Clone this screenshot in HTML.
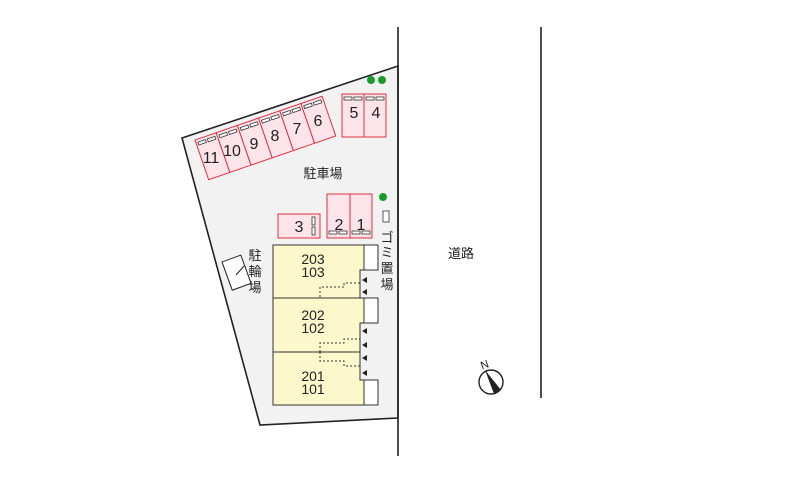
<!DOCTYPE html>
<html><head><meta charset="utf-8"><style>html,body{margin:0;padding:0;background:#fff}svg{display:block}</style></head><body>
<svg width="800" height="486" viewBox="0 0 800 486" xmlns="http://www.w3.org/2000/svg" font-family="'Liberation Sans','Noto Sans CJK JP',sans-serif">
<polygon points="182,138 398,66 398,418 260,425" fill="#f2f2f2" stroke="#222" stroke-width="1.6"/>
<line x1="398" y1="27" x2="398" y2="456" stroke="#222" stroke-width="1.6"/>
<line x1="541" y1="27" x2="541" y2="398" stroke="#222" stroke-width="1.6"/>
<g transform="translate(195,140) rotate(-19)" stroke="#e03040" stroke-width="1" fill="#fce4ea">
<rect x="0" y="0" width="22.4" height="42"/><rect x="22.4" y="0" width="22.4" height="42"/><rect x="44.8" y="0" width="22.4" height="42"/><rect x="67.2" y="0" width="22.4" height="42"/><rect x="89.6" y="0" width="22.4" height="42"/><rect x="112" y="0" width="22.4" height="42"/>
<g fill="#fff" stroke="#333" stroke-width="0.8">
<rect x="2" y="3" width="8" height="3"/><rect x="12" y="3" width="8" height="3"/><rect x="24.4" y="3" width="8" height="3"/><rect x="34.4" y="3" width="8" height="3"/><rect x="46.8" y="3" width="8" height="3"/><rect x="56.8" y="3" width="8" height="3"/><rect x="69.2" y="3" width="8" height="3"/><rect x="79.2" y="3" width="8" height="3"/><rect x="91.6" y="3" width="8" height="3"/><rect x="101.6" y="3" width="8" height="3"/><rect x="114" y="3" width="8" height="3"/><rect x="124" y="3" width="8" height="3"/>
</g></g>
<g font-size="16" fill="#222" text-anchor="middle">
<text x="211" y="163">11</text><text x="232" y="156">10</text><text x="254" y="149">9</text><text x="275" y="141">8</text><text x="297" y="134">7</text><text x="318" y="126">6</text>
</g>
<g stroke="#e03040" fill="#fce4ea">
<rect x="342" y="94" width="22" height="43"/><rect x="364" y="94" width="22" height="43"/>
<rect x="327" y="194" width="23" height="44"/><rect x="350" y="194" width="22" height="44"/>
<rect x="278" y="214" width="42" height="24"/>
</g>
<g fill="#fff" stroke="#333" stroke-width="0.8">
<rect x="344" y="97" width="8" height="3"/><rect x="354" y="97" width="8" height="3"/><rect x="366" y="97" width="8" height="3"/><rect x="376" y="97" width="8" height="3"/>
<rect x="329" y="231" width="8" height="3"/><rect x="339" y="231" width="8" height="3"/><rect x="352" y="231" width="8" height="3"/><rect x="362" y="231" width="8" height="3"/>
<rect x="312" y="217" width="3" height="8"/><rect x="312" y="227" width="3" height="8"/>
<rect x="383" y="211" width="6" height="11"/>
</g>
<g font-size="16" fill="#222" text-anchor="middle">
<text x="354" y="118">5</text><text x="376" y="118">4</text>
<text x="339" y="230">2</text><text x="361" y="230">1</text><text x="299" y="232">3</text>
</g>
<circle cx="371" cy="80" r="4" fill="#1a9a2a"/><circle cx="382" cy="80" r="4" fill="#1a9a2a"/><circle cx="383" cy="197" r="4" fill="#1a9a2a"/>
<text x="323" y="178" font-size="13" fill="#222" text-anchor="middle">駐車場</text>
<g transform="translate(222,262) rotate(-20)"><rect x="0" y="0" width="20" height="30" fill="#fff" stroke="#222"/></g>
<line x1="236" y1="275" x2="244" y2="266" stroke="#222"/>
<g font-size="13" fill="#222" text-anchor="middle"><text x="255" y="260">駐</text><text x="255" y="276">輪</text><text x="255" y="292">場</text>
<text x="387" y="242">ゴ</text><text x="387" y="257">ミ</text><text x="387" y="273">置</text><text x="387" y="289">場</text>
<text x="461" y="258">道路</text></g>
<polygon points="273,245 364,245 364,270 360,270 360,298 364,298 364,323 360,323 360,380 364,380 364,405 273,405" fill="#fdf8cc" stroke="#333"/>
<line x1="273" y1="298" x2="364" y2="298" stroke="#333"/><line x1="273" y1="352" x2="360" y2="352" stroke="#333"/>
<g fill="#fff" stroke="#333"><rect x="364" y="245" width="14" height="25"/><rect x="364" y="298" width="14" height="25"/><rect x="364" y="380" width="14" height="25"/></g>
<g fill="none" stroke="#333" stroke-dasharray="2,2"><polyline points="320,297 320,287 344,287 344,283 360,283"/><polyline points="320,352 320,343 344,343 344,339 360,339"/><polyline points="320,352 320,361 344,361 344,366 360,366"/></g>
<g fill="#222"><polygon points="362,280 367,277 367,283"/><polygon points="362,292 367,289 367,295"/><polygon points="362,331 367,328 367,334"/><polygon points="362,345 367,342 367,348"/><polygon points="362,358 367,355 367,361"/><polygon points="362,373 367,370 367,376"/></g>
<g font-size="14" fill="#222" text-anchor="middle"><text x="313" y="264">203</text><text x="313" y="277">103</text><text x="313" y="320">202</text><text x="313" y="333">102</text><text x="313" y="381">201</text><text x="313" y="394">101</text></g>
<circle cx="491" cy="382" r="12" fill="#fff" stroke="#222" stroke-width="1.4"/>
<polygon points="485,370 501,390 494,394" fill="#222"/>
<text x="481" y="369" font-size="11" fill="#222" transform="rotate(-20 483 366)">N</text>
</svg>
</body></html>
